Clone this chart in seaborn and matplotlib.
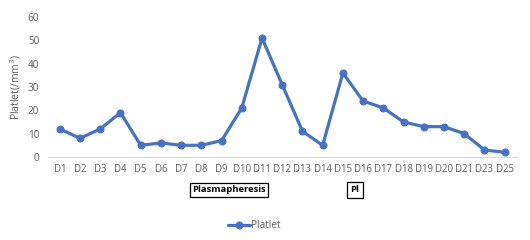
import matplotlib
matplotlib.use("Agg")
import matplotlib.pyplot as plt
import seaborn as sns
import pandas as pd

days = ["D1", "D2", "D3", "D4", "D5", "D6", "D7", "D8", "D9", "D10", "D11", "D12",
        "D13", "D14", "D15", "D16", "D17", "D18", "D19", "D20", "D21", "D23", "D25"]
platelet = [12, 8, 12, 19, 5, 6, 5, 5, 7, 21, 51, 31, 11, 5, 36, 24, 21, 15, 13, 13, 10, 3, 2]
y_ticks = [0, 10, 20, 30, 40, 50, 60]

sns.set_theme(style="white")
plt.rcParams['font.family'] = ['Open Sans', 'DejaVu Sans']

df = pd.DataFrame({"day": days, "Platlet": platelet})
df["pos"] = range(len(days))

fig = plt.figure(figsize=(5.3, 2.4), dpi=100)
ax = fig.add_axes([0.09, 0.346, 0.885, 0.583])
blue = "#4472C4"
sns.lineplot(data=df, x="pos", y="Platlet", ax=ax, color=blue, linewidth=2.3,
             marker="o", markersize=5, markeredgecolor=blue, label="Platlet", legend=False)

ax.set_xlim(-0.6, len(days) - 0.4)
ax.set_ylim(0, 60)
ax.set_yticks(y_ticks)
ax.set_xticks(range(len(days)))
ax.set_xticklabels(days)
ax.tick_params(axis='x', labelsize=6.9, colors="#595959", length=0, pad=5)
ax.tick_params(axis='y', labelsize=7.2, colors="#595959", length=0, pad=6)
ax.set_xlabel("")
ax.set_ylabel("Platlet(/mm$^3$)", fontsize=7.5, color="#595959")
ax.yaxis.set_label_coords(-0.052, 0.5)
for s in ["top", "right", "left"]:
    ax.spines[s].set_visible(False)
ax.spines["bottom"].set_color("#D9D9D9")
ax.spines["bottom"].set_linewidth(0.8)
for l in ax.lines:
    l.set_clip_on(False)

box = dict(boxstyle="square,pad=0.25", facecolor="white", edgecolor="black", linewidth=0.9)
fig.text(229/530, 1 - 190/240, "Plasmapheresis", fontsize=6.8, fontweight="bold",
         ha="center", va="center", bbox=box, color="black")
fig.text(355/530, 1 - 190/240, "Pl", fontsize=6.8, fontweight="bold",
         ha="center", va="center", bbox=dict(boxstyle="square,pad=0.35", facecolor="white",
                                              edgecolor="black", linewidth=0.9), color="black")

handles, labels = ax.get_legend_handles_labels()
leg = fig.legend(handles, labels, loc="center", bbox_to_anchor=(254/530, 1 - 226/240),
                 frameon=False, fontsize=7.2, handlelength=2.2, handletextpad=0.1)
for t in leg.get_texts():
    t.set_color("#595959")

fig.savefig("out.png", dpi=100)
